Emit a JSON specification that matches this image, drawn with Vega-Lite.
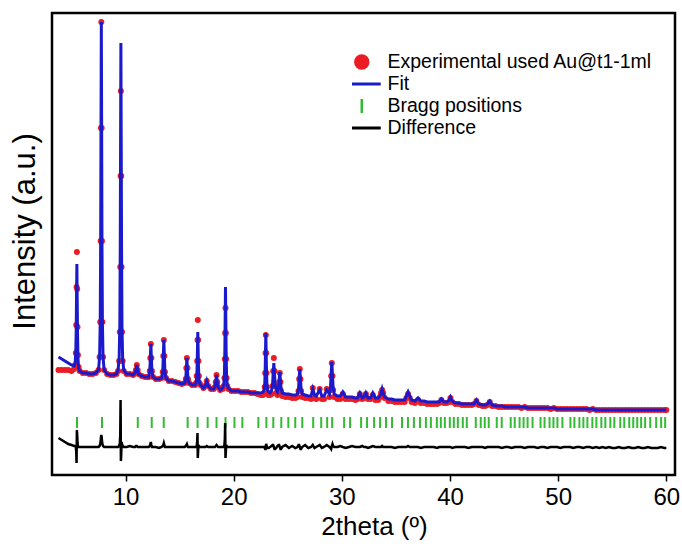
{
 "$schema": "https://vega.github.io/schema/vega-lite/v6.json",
 "width": 623, "height": 462,
 "autosize": "none",
 "padding": {"left": 52, "top": 13, "right": 7, "bottom": 71},
 "background": "white",
 "config": {"view": {"stroke": "black", "strokeWidth": 2.5}, "font": "Liberation Sans",
  "legend": {"orient": "none", "legendX": 300, "legendY": 38, "title": null, "padding": 0,
   "labelFont": "Liberation Sans", "labelFontSize": 19.5, "labelColor": "black", "labelOffset": 16, "labelLimit": 400,
   "symbolSize": 1444, "symbolStrokeWidth": 3, "clipHeight": 22, "rowPadding": 0}},
 "datasets": {
  "pattern": [
   {"tt":3.8,"obs":105,"fit":118,"diff":37},{"tt":4.1,"obs":105,"fit":116,"diff":35},{"tt":4.4,"obs":105,"fit":114,"diff":33},{"tt":4.7,"obs":105,"fit":112,"diff":31},{"tt":5.0,"obs":104,"fit":110,"diff":30},
   {"tt":5.24,"obs":106,"fit":109,"diff":29},{"tt":5.34,"obs":110,"fit":112,"diff":29},{"tt":5.40,"obs":122,"fit":123,"diff":28},{"tt":5.44,"obs":150,"fit":147,"diff":24},{"tt":5.47,"obs":188,"fit":181,"diff":12},{"tt":5.50,"obs":223,"fit":211,"diff":45},{"tt":5.53,"obs":186,"fit":176,"diff":40},{"tt":5.56,"obs":148,"fit":142,"diff":32},{"tt":5.60,"obs":120,"fit":118,"diff":29},{"tt":5.66,"obs":108,"fit":107,"diff":28},{"tt":5.76,"obs":104,"fit":104,"diff":28},
   {"tt":6.05,"obs":102,"fit":102,"diff":28},{"tt":6.35,"obs":102,"fit":102,"diff":28},{"tt":6.65,"obs":101,"fit":101,"diff":28},{"tt":6.95,"obs":101,"fit":101,"diff":28},{"tt":7.25,"obs":102,"fit":102,"diff":28},
   {"tt":7.50,"obs":105,"fit":105,"diff":28},{"tt":7.60,"obs":118,"fit":118,"diff":29},{"tt":7.66,"obs":153,"fit":153,"diff":31},{"tt":7.70,"obs":234,"fit":234,"diff":34},{"tt":7.73,"obs":347,"fit":347,"diff":38},{"tt":7.76,"obs":453,"fit":453,"diff":40},{"tt":7.79,"obs":347,"fit":347,"diff":38},{"tt":7.82,"obs":234,"fit":234,"diff":34},{"tt":7.86,"obs":153,"fit":153,"diff":31},{"tt":7.92,"obs":118,"fit":118,"diff":29},{"tt":8.02,"obs":105,"fit":105,"diff":28},
   {"tt":8.3,"obs":101,"fit":101,"diff":28},{"tt":8.6,"obs":100,"fit":100,"diff":28},{"tt":8.9,"obs":100,"fit":100,"diff":28},{"tt":9.15,"obs":101,"fit":101,"diff":28},
   {"tt":9.31,"obs":104,"fit":105,"diff":28},{"tt":9.41,"obs":114,"fit":117,"diff":29},{"tt":9.47,"obs":143,"fit":150,"diff":32},{"tt":9.51,"obs":208,"fit":226,"diff":40},{"tt":9.54,"obs":299,"fit":332,"diff":75},{"tt":9.57,"obs":384,"fit":432,"diff":14},{"tt":9.60,"obs":299,"fit":332,"diff":20},{"tt":9.63,"obs":208,"fit":226,"diff":33},{"tt":9.67,"obs":143,"fit":150,"diff":31},{"tt":9.73,"obs":114,"fit":117,"diff":29},{"tt":9.83,"obs":104,"fit":105,"diff":28},
   {"tt":10.1,"obs":101,"fit":101,"diff":28},{"tt":10.4,"obs":101,"fit":101,"diff":29},{"tt":10.7,"obs":100,"fit":100,"diff":28},
   {"tt":10.88,"obs":102,"fit":102,"diff":28},{"tt":10.96,"obs":105,"fit":105,"diff":29},{"tt":11.04,"obs":110,"fit":110,"diff":29},{"tt":11.12,"obs":105,"fit":105,"diff":28},{"tt":11.2,"obs":101,"fit":101,"diff":28},
   {"tt":11.5,"obs":99,"fit":99,"diff":28},{"tt":11.8,"obs":98,"fit":98,"diff":28},{"tt":12.05,"obs":98,"fit":98,"diff":28},
   {"tt":12.14,"obs":98,"fit":98,"diff":28},{"tt":12.24,"obs":104,"fit":104,"diff":29},{"tt":12.29,"obs":117,"fit":117,"diff":31},{"tt":12.34,"obs":131,"fit":131,"diff":33},{"tt":12.39,"obs":117,"fit":117,"diff":30},{"tt":12.44,"obs":104,"fit":104,"diff":28},{"tt":12.54,"obs":98,"fit":98,"diff":28},
   {"tt":12.8,"obs":96,"fit":96,"diff":28},{"tt":13.1,"obs":96,"fit":96,"diff":27},
   {"tt":13.34,"obs":97,"fit":97,"diff":28},{"tt":13.44,"obs":103,"fit":103,"diff":29},{"tt":13.49,"obs":119,"fit":119,"diff":30},{"tt":13.54,"obs":135,"fit":135,"diff":32},{"tt":13.59,"obs":119,"fit":119,"diff":30},{"tt":13.64,"obs":103,"fit":103,"diff":28},{"tt":13.74,"obs":97,"fit":97,"diff":28},
   {"tt":14.0,"obs":94,"fit":94,"diff":28},{"tt":14.3,"obs":94,"fit":94,"diff":28},{"tt":14.6,"obs":93,"fit":93,"diff":28},{"tt":14.9,"obs":92,"fit":92,"diff":28},{"tt":15.2,"obs":91,"fit":91,"diff":28},
   {"tt":15.47,"obs":92,"fit":92,"diff":28},{"tt":15.57,"obs":96,"fit":96,"diff":29},{"tt":15.62,"obs":107,"fit":107,"diff":30},{"tt":15.67,"obs":117,"fit":117,"diff":31},{"tt":15.72,"obs":107,"fit":107,"diff":29},{"tt":15.77,"obs":96,"fit":96,"diff":28},{"tt":15.87,"obs":92,"fit":92,"diff":28},
   {"tt":16.15,"obs":90,"fit":90,"diff":28},
   {"tt":16.42,"obs":90,"fit":90,"diff":28},{"tt":16.52,"obs":92,"fit":92,"diff":28},{"tt":16.58,"obs":99,"fit":97,"diff":29},{"tt":16.62,"obs":114,"fit":110,"diff":33},{"tt":16.65,"obs":135,"fit":127,"diff":42},{"tt":16.68,"obs":155,"fit":143,"diff":17},{"tt":16.71,"obs":135,"fit":127,"diff":24},{"tt":16.74,"obs":114,"fit":110,"diff":30},{"tt":16.78,"obs":99,"fit":97,"diff":29},{"tt":16.84,"obs":92,"fit":92,"diff":28},{"tt":16.94,"obs":90,"fit":90,"diff":28},
   {"tt":17.2,"obs":87,"fit":87,"diff":28},
   {"tt":17.38,"obs":89,"fit":89,"diff":28},{"tt":17.51,"obs":94,"fit":94,"diff":29},{"tt":17.64,"obs":89,"fit":89,"diff":28},
   {"tt":17.9,"obs":86,"fit":86,"diff":28},{"tt":18.15,"obs":86,"fit":86,"diff":28},
   {"tt":18.26,"obs":88,"fit":88,"diff":28},{"tt":18.34,"obs":93,"fit":93,"diff":29},{"tt":18.41,"obs":100,"fit":100,"diff":30},{"tt":18.48,"obs":93,"fit":93,"diff":29},{"tt":18.56,"obs":88,"fit":88,"diff":28},
   {"tt":18.75,"obs":85,"fit":85,"diff":28},
   {"tt":18.98,"obs":86,"fit":87,"diff":28},{"tt":19.08,"obs":89,"fit":90,"diff":28},{"tt":19.14,"obs":97,"fit":100,"diff":30},{"tt":19.18,"obs":116,"fit":124,"diff":36},{"tt":19.21,"obs":142,"fit":157,"diff":52},{"tt":19.24,"obs":167,"fit":188,"diff":17},{"tt":19.27,"obs":142,"fit":157,"diff":22},{"tt":19.30,"obs":116,"fit":124,"diff":30},{"tt":19.34,"obs":97,"fit":100,"diff":29},{"tt":19.40,"obs":89,"fit":90,"diff":28},{"tt":19.50,"obs":86,"fit":87,"diff":28},
   {"tt":19.8,"obs":84,"fit":84,"diff":28},{"tt":20.1,"obs":84,"fit":84,"diff":28},{"tt":20.4,"obs":84,"fit":84,"diff":28},{"tt":20.7,"obs":83,"fit":83,"diff":28},{"tt":21.0,"obs":83,"fit":83,"diff":28},{"tt":21.3,"obs":83,"fit":83,"diff":28},{"tt":21.6,"obs":82,"fit":82,"diff":28},{"tt":21.9,"obs":82,"fit":82,"diff":28},{"tt":22.2,"obs":81,"fit":82,"diff":28},{"tt":22.5,"obs":80,"fit":82,"diff":28},
   {"tt":22.71,"obs":80,"fit":83,"diff":28},{"tt":22.81,"obs":82,"fit":85,"diff":28},{"tt":22.87,"obs":88,"fit":91,"diff":27},{"tt":22.91,"obs":102,"fit":105,"diff":26},{"tt":22.94,"obs":122,"fit":124,"diff":26},{"tt":22.97,"obs":140,"fit":142,"diff":29},{"tt":23.00,"obs":122,"fit":124,"diff":31},{"tt":23.03,"obs":102,"fit":105,"diff":30},{"tt":23.07,"obs":88,"fit":91,"diff":28},{"tt":23.13,"obs":82,"fit":85,"diff":27},{"tt":23.23,"obs":80,"fit":83,"diff":27},
   {"tt":23.36,"obs":80,"fit":82,"diff":28},
   {"tt":23.49,"obs":81,"fit":84,"diff":29},{"tt":23.59,"obs":89,"fit":90,"diff":30},{"tt":23.65,"obs":104,"fit":102,"diff":30},{"tt":23.71,"obs":117,"fit":112,"diff":28},{"tt":23.77,"obs":104,"fit":102,"diff":26},{"tt":23.83,"obs":89,"fit":90,"diff":26},{"tt":23.93,"obs":82,"fit":85,"diff":27},
   {"tt":24.04,"obs":80,"fit":83,"diff":29},{"tt":24.14,"obs":84,"fit":87,"diff":30},{"tt":24.20,"obs":93,"fit":95,"diff":30},{"tt":24.26,"obs":102,"fit":103,"diff":28},{"tt":24.32,"obs":93,"fit":95,"diff":26},{"tt":24.38,"obs":84,"fit":87,"diff":26},{"tt":24.48,"obs":79,"fit":82,"diff":28},
   {"tt":24.8,"obs":78,"fit":81,"diff":30},{"tt":25.1,"obs":78,"fit":81,"diff":27},{"tt":25.4,"obs":77,"fit":80,"diff":29},{"tt":25.7,"obs":77,"fit":80,"diff":27},
   {"tt":25.89,"obs":78,"fit":81,"diff":28},{"tt":25.99,"obs":84,"fit":86,"diff":30},{"tt":26.05,"obs":96,"fit":97,"diff":30},{"tt":26.11,"obs":106,"fit":106,"diff":28},{"tt":26.17,"obs":96,"fit":97,"diff":26},{"tt":26.23,"obs":84,"fit":86,"diff":26},{"tt":26.33,"obs":78,"fit":81,"diff":28},
   {"tt":26.6,"obs":77,"fit":80,"diff":30},{"tt":26.9,"obs":77,"fit":79,"diff":27},{"tt":27.15,"obs":76,"fit":79,"diff":28},{"tt":27.31,"obs":87,"fit":86,"diff":30},{"tt":27.47,"obs":77,"fit":80,"diff":27},{"tt":27.63,"obs":76,"fit":79,"diff":28},{"tt":27.95,"obs":86,"fit":85,"diff":30},{"tt":28.15,"obs":76,"fit":79,"diff":27},{"tt":28.35,"obs":76,"fit":79,"diff":28},{"tt":28.6,"obs":86,"fit":85,"diff":30},
   {"tt":28.85,"obs":78,"fit":81,"diff":28},{"tt":28.95,"obs":85,"fit":88,"diff":27},{"tt":29.01,"obs":99,"fit":101,"diff":26},{"tt":29.07,"obs":112,"fit":113,"diff":29},{"tt":29.13,"obs":99,"fit":101,"diff":31},{"tt":29.19,"obs":85,"fit":88,"diff":29},{"tt":29.29,"obs":78,"fit":81,"diff":28},
   {"tt":29.6,"obs":76,"fit":79,"diff":28},{"tt":29.85,"obs":76,"fit":79,"diff":29},{"tt":30.09,"obs":81,"fit":83,"diff":28},{"tt":30.35,"obs":76,"fit":78,"diff":27},{"tt":30.65,"obs":76,"fit":78,"diff":28},{"tt":30.95,"obs":76,"fit":78,"diff":29},{"tt":31.25,"obs":75,"fit":77,"diff":28},{"tt":31.45,"obs":76,"fit":77,"diff":28},{"tt":31.66,"obs":81,"fit":82,"diff":28},{"tt":31.88,"obs":76,"fit":77,"diff":29},{"tt":32.05,"obs":77,"fit":78,"diff":28},{"tt":32.22,"obs":81,"fit":82,"diff":28},{"tt":32.42,"obs":76,"fit":77,"diff":27},{"tt":32.65,"obs":76,"fit":77,"diff":28},{"tt":32.86,"obs":80,"fit":82,"diff":29},{"tt":33.1,"obs":75,"fit":77,"diff":28},{"tt":33.35,"obs":75,"fit":77,"diff":28},
   {"tt":33.52,"obs":78,"fit":79,"diff":28},{"tt":33.62,"obs":82,"fit":82,"diff":28},{"tt":33.72,"obs":85,"fit":86,"diff":29},{"tt":33.82,"obs":82,"fit":82,"diff":28},{"tt":33.95,"obs":77,"fit":78,"diff":28},
   {"tt":34.3,"obs":74,"fit":76,"diff":28},{"tt":34.6,"obs":74,"fit":76,"diff":28},{"tt":34.9,"obs":73,"fit":75,"diff":27},{"tt":35.2,"obs":73,"fit":75,"diff":28},{"tt":35.5,"obs":73,"fit":75,"diff":28},{"tt":35.8,"obs":73,"fit":75,"diff":28},
   {"tt":35.97,"obs":77,"fit":79,"diff":28},{"tt":36.12,"obs":81,"fit":83,"diff":29},{"tt":36.27,"obs":77,"fit":79,"diff":28},{"tt":36.45,"obs":73,"fit":75,"diff":28},
   {"tt":36.75,"obs":72,"fit":74,"diff":28},{"tt":37.04,"obs":75,"fit":77,"diff":28},{"tt":37.3,"obs":72,"fit":74,"diff":27},{"tt":37.6,"obs":72,"fit":74,"diff":28},{"tt":37.9,"obs":71,"fit":73,"diff":28},{"tt":38.2,"obs":71,"fit":73,"diff":28},{"tt":38.5,"obs":71,"fit":73,"diff":28},{"tt":38.8,"obs":71,"fit":73,"diff":27},{"tt":39.0,"obs":72,"fit":73,"diff":28},{"tt":39.2,"obs":75,"fit":76,"diff":28},{"tt":39.45,"obs":72,"fit":73,"diff":28},{"tt":39.7,"obs":72,"fit":73,"diff":28},{"tt":39.88,"obs":73,"fit":74,"diff":28},{"tt":40.04,"obs":77,"fit":78,"diff":28},{"tt":40.2,"obs":73,"fit":74,"diff":27},
   {"tt":40.5,"obs":71,"fit":72,"diff":28},{"tt":40.8,"obs":71,"fit":72,"diff":28},{"tt":41.1,"obs":70,"fit":71,"diff":28},{"tt":41.4,"obs":70,"fit":71,"diff":28},{"tt":41.7,"obs":70,"fit":71,"diff":27},{"tt":42.0,"obs":70,"fit":71,"diff":28},{"tt":42.22,"obs":71,"fit":71,"diff":28},{"tt":42.44,"obs":74,"fit":75,"diff":28},{"tt":42.66,"obs":70,"fit":71,"diff":28},{"tt":43.0,"obs":69,"fit":70,"diff":28},{"tt":43.25,"obs":69,"fit":70,"diff":27},{"tt":43.45,"obs":70,"fit":71,"diff":28},{"tt":43.67,"obs":73,"fit":74,"diff":28},{"tt":43.9,"obs":69,"fit":70,"diff":28},
   {"tt":44.2,"obs":69,"fit":69,"diff":28},{"tt":44.5,"obs":68,"fit":69,"diff":28},{"tt":44.8,"obs":68,"fit":69,"diff":27},{"tt":45.1,"obs":68,"fit":68,"diff":28},{"tt":45.4,"obs":68,"fit":68,"diff":28},{"tt":45.7,"obs":68,"fit":68,"diff":27},{"tt":46.0,"obs":68,"fit":68,"diff":28},{"tt":46.3,"obs":68,"fit":68,"diff":28},{"tt":46.6,"obs":67,"fit":68,"diff":28},{"tt":46.9,"obs":68,"fit":68,"diff":27},{"tt":47.2,"obs":67,"fit":67,"diff":28},{"tt":47.5,"obs":67,"fit":67,"diff":28},{"tt":47.8,"obs":67,"fit":67,"diff":28},{"tt":48.1,"obs":67,"fit":67,"diff":27},{"tt":48.4,"obs":67,"fit":67,"diff":28},{"tt":48.7,"obs":67,"fit":67,"diff":28},{"tt":49.0,"obs":67,"fit":67,"diff":27},{"tt":49.3,"obs":66,"fit":67,"diff":28},{"tt":49.6,"obs":67,"fit":67,"diff":28},{"tt":49.9,"obs":66,"fit":66,"diff":28},
   {"tt":50.2,"obs":66,"fit":66,"diff":27},{"tt":50.5,"obs":66,"fit":66,"diff":28},{"tt":50.8,"obs":66,"fit":66,"diff":28},{"tt":51.1,"obs":66,"fit":66,"diff":28},{"tt":51.4,"obs":66,"fit":66,"diff":27},{"tt":51.7,"obs":66,"fit":66,"diff":28},{"tt":52.0,"obs":66,"fit":66,"diff":28},{"tt":52.3,"obs":66,"fit":66,"diff":27},{"tt":52.6,"obs":66,"fit":66,"diff":28},{"tt":52.9,"obs":65,"fit":66,"diff":28},{"tt":53.2,"obs":66,"fit":66,"diff":27},{"tt":53.5,"obs":65,"fit":65,"diff":28},{"tt":53.8,"obs":65,"fit":65,"diff":27},{"tt":54.1,"obs":65,"fit":65,"diff":28},{"tt":54.4,"obs":65,"fit":65,"diff":27},{"tt":54.7,"obs":65,"fit":65,"diff":28},{"tt":55.0,"obs":65,"fit":65,"diff":27},{"tt":55.3,"obs":65,"fit":65,"diff":27},{"tt":55.6,"obs":65,"fit":65,"diff":28},{"tt":55.9,"obs":65,"fit":65,"diff":27},{"tt":56.2,"obs":65,"fit":65,"diff":27},{"tt":56.5,"obs":65,"fit":65,"diff":28},{"tt":56.8,"obs":65,"fit":65,"diff":27},{"tt":57.1,"obs":65,"fit":65,"diff":27},{"tt":57.4,"obs":65,"fit":65,"diff":28},{"tt":57.7,"obs":65,"fit":65,"diff":27},{"tt":58.0,"obs":65,"fit":65,"diff":27},{"tt":58.3,"obs":65,"fit":65,"diff":28},{"tt":58.6,"obs":65,"fit":65,"diff":27},{"tt":58.9,"obs":65,"fit":65,"diff":27},{"tt":59.2,"obs":65,"fit":65,"diff":27},{"tt":59.5,"obs":65,"fit":65,"diff":28},{"tt":59.8,"obs":65,"fit":65,"diff":27},{"tt":60.0,"obs":65,"fit":65,"diff":27}
  ],
  "bragg": [
   {"tt":5.51},{"tt":7.82},{"tt":9.57},{"tt":11.13},{"tt":12.42},{"tt":13.53},{"tt":15.74},{"tt":16.66},{"tt":17.59},{"tt":18.41},{"tt":19.24},{"tt":20.07},{"tt":20.80},
   {"tt":22.28},{"tt":23.02},{"tt":23.66},{"tt":24.40},{"tt":25.05},{"tt":25.69},{"tt":26.34},
   {"tt":27.35},{"tt":28.09},{"tt":28.64},{"tt":29.10},{"tt":30.21},{"tt":30.76},
   {"tt":31.78},{"tt":32.33},{"tt":32.98},{"tt":33.53},{"tt":34.08},{"tt":34.64},
   {"tt":35.56},{"tt":36.11},{"tt":36.66},{"tt":37.22},{"tt":37.77},{"tt":38.23},{"tt":38.78},
   {"tt":39.15},{"tt":39.52},{"tt":39.98},{"tt":40.35},{"tt":40.72},{"tt":41.18},{"tt":41.55},
   {"tt":42.38},{"tt":42.84},{"tt":43.21},{"tt":43.58},{"tt":44.32},{"tt":44.78},
   {"tt":45.61},{"tt":45.98},{"tt":46.43},{"tt":46.80},{"tt":47.17},{"tt":47.63},
   {"tt":48.37},{"tt":48.74},{"tt":49.20},{"tt":49.56},{"tt":49.93},{"tt":50.39},
   {"tt":51.13},{"tt":51.50},{"tt":51.96},{"tt":52.33},{"tt":52.70},{"tt":53.16},{"tt":53.53},
   {"tt":53.99},{"tt":54.36},{"tt":54.82},{"tt":55.19},{"tt":55.74},{"tt":56.11},
   {"tt":56.57},{"tt":56.94},{"tt":57.31},{"tt":57.67},{"tt":58.04},{"tt":58.51},
   {"tt":59.06},{"tt":59.52},{"tt":59.89}
  ]
 },
 "encoding": {
  "x": {"field": "tt", "type": "quantitative", "scale": {"domain": [3.2, 60.8], "nice": false, "zero": false},
   "axis": {"values": [10,20,30,40,50,60], "title": "2theta (º)", "domain": false, "grid": false, "tickSize": 6, "tickWidth": 1.5, "tickColor": "black", "labelFlush": false, "labelFont": "Liberation Sans", "labelFontSize": 24, "labelColor": "black", "labelPadding": 4, "titleFont": "Liberation Sans", "titleFontSize": 26, "titleFontWeight": "normal", "titleColor": "black", "titlePadding": 4, "titleX": 322}},
  "color": {"type": "nominal",
   "scale": {"domain": ["Experimental used Au@t1-1ml", "Fit", "Bragg positions", "Difference"], "range": ["#ec1c24", "#1a1acc", "#33bb33", "#000000"]},
   "legend": {
    "encode": {"symbols": {"update": {
     "shape": {"signal": "datum.value === 'Experimental used Au@t1-1ml' ? 'circle' : datum.value === 'Bragg positions' ? 'M0,-1L0,1' : 'stroke'"},
     "size": {"signal": "datum.value === 'Experimental used Au@t1-1ml' ? 154 : datum.value === 'Bragg positions' ? 196 : 1444"},
     "fill": {"signal": "datum.value === 'Experimental used Au@t1-1ml' ? '#ec1c24' : 'transparent'"},
     "stroke": {"signal": "datum.value === 'Experimental used Au@t1-1ml' ? 'transparent' : datum.value === 'Fit' ? '#1a1acc' : datum.value === 'Bragg positions' ? '#33bb33' : '#000000'"},
     "strokeWidth": {"signal": "datum.value === 'Bragg positions' ? 2.5 : 3"},
     "opacity": {"value": 1}}}}}}
 },
 "layer": [
  {"data": {"name": "pattern"},
   "mark": {"type": "point", "filled": true, "size": 36, "opacity": 1},
   "encoding": {
    "y": {"field": "obs", "type": "quantitative", "scale": {"domain": [0, 462], "nice": false},
     "axis": {"title": "Intensity (a.u.)", "labels": false, "ticks": false, "domain": false, "grid": false, "titleFont": "Liberation Sans", "titleFontSize": 31, "titleFontWeight": "normal", "titleColor": "black", "titlePadding": 11, "titleY": 218}},
    "color": {"datum": "Experimental used Au@t1-1ml"}
   }},
  {"data": {"name": "pattern"},
   "mark": {"type": "line", "strokeWidth": 3},
   "encoding": {
    "y": {"field": "fit", "type": "quantitative", "axis": {"title": "Intensity (a.u.)"}},
    "color": {"datum": "Fit"}}},
  {"data": {"name": "bragg"},
   "mark": {"type": "rule", "strokeWidth": 2},
   "encoding": {
    "y": {"datum": 47, "type": "quantitative"},
    "y2": {"datum": 58},
    "color": {"datum": "Bragg positions"}}},
  {"data": {"name": "pattern"},
   "mark": {"type": "line", "strokeWidth": 2.5},
   "encoding": {
    "y": {"field": "diff", "type": "quantitative", "axis": {"title": "Intensity (a.u.)"}},
    "color": {"datum": "Difference"}}}
 ]
}
